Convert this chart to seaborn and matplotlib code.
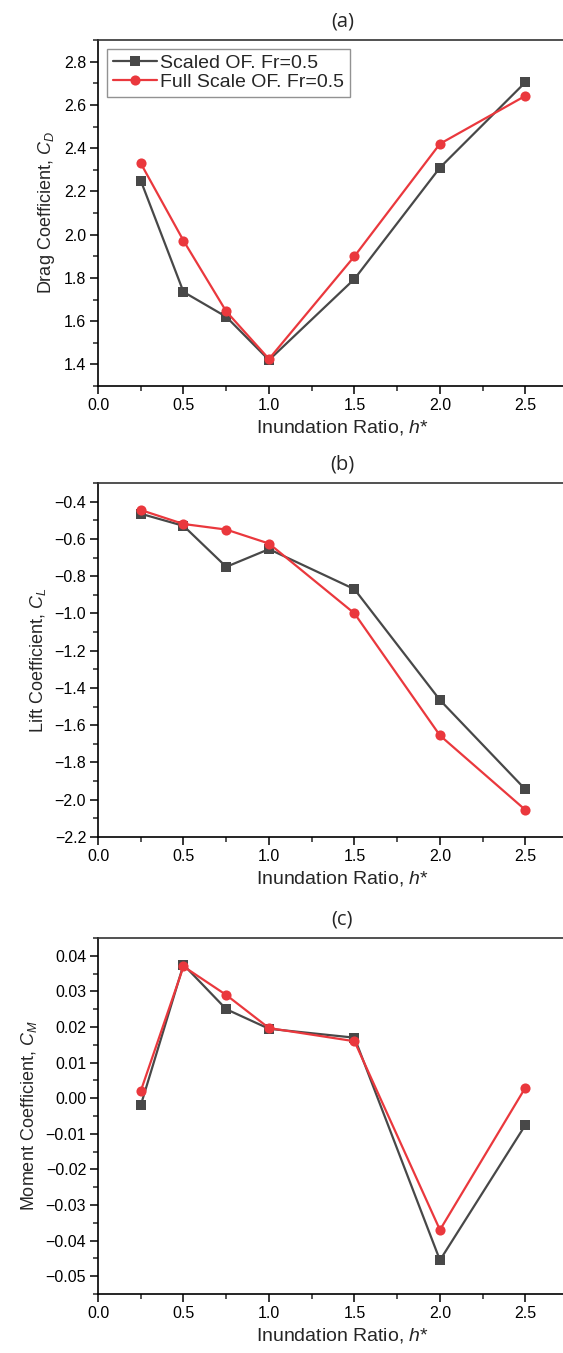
import numpy as np
import pandas as pd
import matplotlib
matplotlib.use("Agg")
import matplotlib.pyplot as plt
from matplotlib.ticker import MultipleLocator
import seaborn as sns

# ---- data ----
h_ratio = [0.25, 0.5, 0.75, 1.0, 1.5, 2.0, 2.5]
series_names = ["Scaled OF. Fr=0.5", "Full Scale OF. Fr=0.5"]

cd_scaled = [2.25, 1.735, 1.62, 1.42, 1.795, 2.31, 2.705]
cd_full = [2.33, 1.972, 1.645, 1.425, 1.90, 2.42, 2.642]

cl_scaled = [-0.465, -0.53, -0.75, -0.655, -0.87, -1.465, -1.945]
cl_full = [-0.445, -0.52, -0.55, -0.625, -1.0, -1.655, -2.055]

cm_scaled = [-0.002, 0.0375, 0.025, 0.0195, 0.017, -0.0455, -0.0075]
cm_full = [0.002, 0.037, 0.029, 0.0197, 0.016, -0.037, 0.003]

titles = ["(a)", "(b)", "(c)"]
ylabels = ["Drag Coefficient, $C_D$", "Lift Coefficient, $C_L$", "Moment Coefficient, $C_M$"]
xlabel = "Inundation Ratio, $h$*"

# ---- style ----
sns.set_style("ticks")
plt.rcParams["font.family"] = ["Liberation Sans", "DejaVu Sans"]
plt.rcParams["mathtext.fontset"] = "custom"
plt.rcParams["mathtext.rm"] = "Liberation Sans"
plt.rcParams["mathtext.it"] = "Liberation Sans:italic"

W, H = 563, 1353
fig = plt.figure(figsize=(W / 100, H / 100), dpi=100)

# panel pixel boxes (left, top, right, bottom); right edge extends past the figure (cropped)
boxes = [(98, 40, 587, 386), (98, 483, 587, 837), (98, 938, 587, 1294)]
ylims = [(1.3, 2.9), (-2.2, -0.3), (-0.055, 0.045)]
ymaj = [0.2, 0.2, 0.01]
datasets = [(cd_scaled, cd_full), (cl_scaled, cl_full), (cm_scaled, cm_full)]
yfmt = ["{:.1f}", "{:.1f}", "{:.2f}"]

gray = "#484848"
red = "#ea383d"
palette = {series_names[0]: gray, series_names[1]: red}
markers = {series_names[0]: "s", series_names[1]: "o"}

for i, (box, yl, ym, (s1, s2)) in enumerate(zip(boxes, ylims, ymaj, datasets)):
    l, t, r, b = box
    ax = fig.add_axes([l / W, 1 - b / H, (r - l) / W, (b - t) / H])
    df = pd.DataFrame({
        "h": h_ratio * 2,
        "val": list(s1) + list(s2),
        "series": [series_names[0]] * len(h_ratio) + [series_names[1]] * len(h_ratio),
    })
    sns.lineplot(data=df, x="h", y="val", hue="series", style="series",
                 palette=palette, markers=markers, dashes=False,
                 markersize=7.3, markeredgewidth=0, linewidth=1.6, ax=ax,
                 legend=(i == 0))
    ax.set_xlim(0, 2.86)
    ax.set_ylim(*yl)
    ax.xaxis.set_major_locator(MultipleLocator(0.5))
    ax.xaxis.set_minor_locator(MultipleLocator(0.25))
    ax.yaxis.set_major_locator(MultipleLocator(ym))
    ax.yaxis.set_minor_locator(MultipleLocator(ym / 2))
    fmt = yfmt[i]
    ax.yaxis.set_major_formatter(plt.FuncFormatter(
        lambda v, p, f=fmt: f.format(v).replace("-", "\u2212") if abs(v) > 1e-9 else f.format(0.0)))
    ax.xaxis.set_major_formatter(plt.FuncFormatter(lambda v, p: "{:.1f}".format(v)))
    ax.tick_params(which="major", direction="out", length=5.5, width=1.1, labelsize=11.5,
                   colors="black", pad=3)
    ax.tick_params(which="minor", direction="out", length=3.5, width=1.1)
    for sp in ["left", "bottom", "top"]:
        ax.spines[sp].set_visible(True)
        ax.spines[sp].set_linewidth(1.2)
        ax.spines[sp].set_color("black")
    ax.spines["top"].set_color("#333333")
    ax.spines["right"].set_visible(False)
    ax.set_xlabel(xlabel, fontsize=14, labelpad=4)
    ax.set_ylabel(ylabels[i], fontsize=13, labelpad=5)
    ax.set_title(titles[i], fontsize=14.5, pad=10, family=["Open Sans", "DejaVu Sans"])
    if i == 0:
        leg = ax.legend(loc="upper left", fontsize=14, frameon=True, fancybox=False,
                        edgecolor="#777777", handlelength=2.3, borderpad=0.3,
                        labelspacing=0.05, handletextpad=0.15, borderaxespad=0.45)
        leg.get_frame().set_linewidth(1.0)

fig.savefig("out.png", dpi=100)
